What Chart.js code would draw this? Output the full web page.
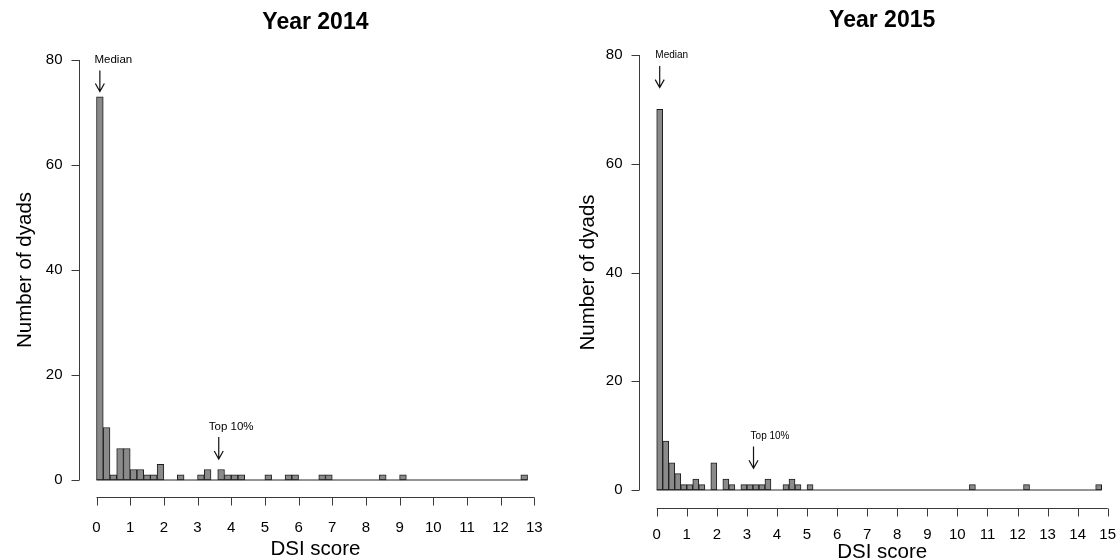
<!DOCTYPE html>
<html>
<head>
<meta charset="utf-8">
<script src="https://cdn.jsdelivr.net/npm/chart.js@4/dist/chart.umd.min.js"></script>
<style>
  html, body { margin: 0; padding: 0; background: #fff; }
  #wrap { position: relative; width: 1117px; height: 560px; overflow: hidden; }
  canvas { position: absolute; top: 0; }
  #c2014 { left: 0; }
  #c2015 { left: 560px; }
</style>
</head>
<body>
<div id="wrap">
  <canvas id="c2014" width="560" height="560"></canvas>
  <canvas id="c2015" width="557" height="560"></canvas>
</div>
<script>
// Histogram bins are 0.2 DSI units wide, starting at 0.
const BIN_WIDTH = 0.2;

// Number of dyads per DSI bin, 2014 (bins 0–0.2 … 12.6–12.8)
const counts2014 = [
  73, 10, 1, 6, 6, 2, 2, 1, 1, 3,
   0,  0, 1, 0, 0, 1, 2, 0, 2, 1,
   1,  1, 0, 0, 0, 1, 0, 0, 1, 1,
   0,  0, 0, 1, 1, 0, 0, 0, 0, 0,
   0,  0, 1, 0, 0, 1, 0, 0, 0, 0,
   0,  0, 0, 0, 0, 0, 0, 0, 0, 0,
   0,  0, 0, 1
];

// Number of dyads per DSI bin, 2015 (bins 0–0.2 … 14.6–14.8)
const counts2015 = [
  70, 9, 5, 3, 1, 1, 2, 1, 0, 5,
   0, 2, 1, 0, 1, 1, 1, 1, 2, 0,
   0, 1, 2, 1, 0, 1, 0, 0, 0, 0,
   0, 0, 0, 0, 0, 0, 0, 0, 0, 0,
   0, 0, 0, 0, 0, 0, 0, 0, 0, 0,
   0, 0, 1, 0, 0, 0, 0, 0, 0, 0,
   0, 1, 0, 0, 0, 0, 0, 0, 0, 0,
   0, 0, 0, 1
];

// Axis tick labels
const xTicks2014 = [0, 1, 2, 3, 4, 5, 6, 7, 8, 9, 10, 11, 12, 13];
const xTicks2015 = [0, 1, 2, 3, 4, 5, 6, 7, 8, 9, 10, 11, 12, 13, 14, 15];
const yTicks = [0, 20, 40, 60, 80];

const FONT = '"Liberation Sans", Arial, Helvetica, sans-serif';

// Base-graphics style axes: detached from the plot region, drawn from the chart's scales.
const baseAxes = {
  id: 'baseAxes',
  afterDraw(chart, args, o) {
    const { ctx, chartArea: a, scales: { x, y } } = chart;
    ctx.save();
    ctx.strokeStyle = '#3a3a3a';
    ctx.fillStyle = '#000';
    ctx.lineWidth = 1;

    // y axis
    const ax = Math.round(a.left - o.yGap) + 0.5;
    const yTop = y.getPixelForValue(o.yTicks[o.yTicks.length - 1]);
    const yBot = y.getPixelForValue(o.yTicks[0]);
    ctx.beginPath();
    ctx.moveTo(ax, yTop); ctx.lineTo(ax, yBot);
    o.yTicks.forEach(v => {
      const py = Math.round(y.getPixelForValue(v)) + 0.5;
      ctx.moveTo(ax, py); ctx.lineTo(ax - o.tickLen, py);
    });
    ctx.stroke();
    ctx.font = o.tickFont + 'px ' + FONT;
    ctx.textAlign = 'right';
    ctx.textBaseline = 'middle';
    o.yTicks.forEach(v => {
      ctx.fillText(String(v), ax - o.yLabelGap, y.getPixelForValue(v));
    });

    // x axis
    const ay = Math.round(a.bottom + o.xGap) + 0.5;
    const xL = x.getPixelForValue(o.xTicks[0]);
    const xR = x.getPixelForValue(o.xTicks[o.xTicks.length - 1]);
    ctx.beginPath();
    ctx.moveTo(xL, ay); ctx.lineTo(xR, ay);
    o.xTicks.forEach(v => {
      const px = Math.round(x.getPixelForValue(v)) + 0.5;
      ctx.moveTo(px, ay); ctx.lineTo(px, ay + o.tickLen);
    });
    ctx.stroke();
    ctx.textAlign = 'center';
    o.xTicks.forEach(v => {
      ctx.fillText(String(v), x.getPixelForValue(v), ay + o.xLabelGap);
    });

    // axis titles
    const cx = (a.left + a.right) / 2;
    const cy = (a.top + a.bottom) / 2;
    ctx.font = o.axisTitleFont + 'px ' + FONT;
    ctx.fillText(o.xTitle, cx, o.xTitleY);
    ctx.save();
    ctx.translate(o.yTitleX, cy);
    ctx.rotate(-Math.PI / 2);
    ctx.fillText(o.yTitle, 0, 0);
    ctx.restore();

    // main title
    ctx.font = 'bold ' + o.titleFont + 'px ' + FONT;
    ctx.fillText(o.title, cx, o.titleY);

    // annotations with downward arrows
    ctx.strokeStyle = '#111';
    ctx.lineWidth = 1.2;
    o.notes.forEach(n => {
      ctx.font = n.size + 'px ' + FONT;
      ctx.fillText(n.label, x.getPixelForValue(n.textX), y.getPixelForValue(n.textY));
      const px = x.getPixelForValue(n.arrowX);
      const p0 = y.getPixelForValue(n.from);
      const p1 = y.getPixelForValue(n.to);
      ctx.beginPath();
      ctx.moveTo(px, p0); ctx.lineTo(px, p1);
      ctx.moveTo(px - 4.5, p1 - 8); ctx.lineTo(px, p1); ctx.lineTo(px + 4.5, p1 - 8);
      ctx.stroke();
    });
    ctx.restore();
  }
};

function histogram(id, counts, xTicks, pad, axisOpts) {
  const bins = counts.map((c, i) => ({ x: (i + 0.5) * BIN_WIDTH, y: c }));
  const lastEdge = counts.length * BIN_WIDTH;
  return new Chart(document.getElementById(id), {
    type: 'bar',
    data: {
      datasets: [
        {
          type: 'bar',
          data: bins,
          backgroundColor: '#8a8a8a',
          borderColor: '#1e1e1e',
          borderWidth: 1,
          borderSkipped: false,
          barPercentage: 1,
          categoryPercentage: 1,
          clip: false,
          order: 2
        },
        {
          type: 'line',
          data: [{ x: 0, y: 0 }, { x: lastEdge, y: 0 }],
          borderColor: '#2a2a2a',
          borderWidth: 1.2,
          pointRadius: 0,
          clip: false,
          order: 1
        }
      ]
    },
    options: {
      responsive: false,
      animation: false,
      devicePixelRatio: 1,
      layout: { padding: pad },
      scales: {
        x: { type: 'linear', min: xTicks[0], max: xTicks[xTicks.length - 1], offset: false, display: false },
        y: { type: 'linear', min: yTicks[0], max: yTicks[yTicks.length - 1], display: false }
      },
      plugins: {
        legend: { display: false },
        tooltip: { enabled: false },
        baseAxes: Object.assign({ xTicks, yTicks }, axisOpts)
      }
    },
    plugins: [baseAxes]
  });
}

histogram('c2014', counts2014, xTicks2014,
  { left: 96.5, right: 25.7, top: 60, bottom: 80 },
  {
    title: 'Year 2014', titleY: 23, titleFont: 23,
    xTitle: 'DSI score', xTitleY: 549, yTitle: 'Number of dyads', yTitleX: 25,
    axisTitleFont: 20.5, tickFont: 15,
    yGap: 18, xGap: 16.5, tickLen: 8, yLabelGap: 17, xLabelGap: 30,
    notes: [
      { label: 'Median', size: 11.5, textX: 0.5, textY: 80, arrowX: 0.1, from: 78, to: 74 },
      { label: 'Top 10%', size: 11.5, textX: 4.0, textY: 10.1, arrowX: 3.63, from: 8.2, to: 4.0 }
    ]
  });

histogram('c2015', counts2015, xTicks2015,
  { left: 96.7, right: 9.3, top: 55, bottom: 70 },
  {
    title: 'Year 2015', titleY: 21, titleFont: 23,
    xTitle: 'DSI score', xTitleY: 552, yTitle: 'Number of dyads', yTitleX: 28,
    axisTitleFont: 20.5, tickFont: 15,
    yGap: 18, xGap: 17.5, tickLen: 8, yLabelGap: 17, xLabelGap: 26,
    notes: [
      { label: 'Median', size: 10, textX: 0.5, textY: 80, arrowX: 0.1, from: 78, to: 74 },
      { label: 'Top 10%', size: 10, textX: 3.77, textY: 9.9, arrowX: 3.22, from: 8.0, to: 4.0 }
    ]
  });
</script>
</body>
</html>
